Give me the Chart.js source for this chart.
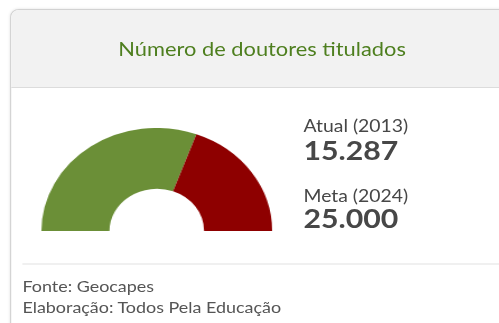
<!DOCTYPE html>
<html>
<head>
<meta charset="utf-8">
<script src="https://cdn.jsdelivr.net/npm/chart.js@4"></script>
<style>
  html, body { margin: 0; padding: 0; background: #fff; overflow: hidden; width: 499px; height: 323px; }
  #wrap { position: relative; width: 446px; height: 323px; transform: scaleX(1.12); transform-origin: 0 0; font-family: Lato, "Open Sans", sans-serif; }
  .card { position: absolute; left: 9px; top: 9px; width: 460px; height: 340px; border: 1px solid #d2d2d2; border-radius: 8px; box-shadow: 0 0 3px rgba(0,0,0,0.12); background: #fff; overflow: hidden; }
  .card-head { position: absolute; left: 0; top: 0; width: 100%; height: 77px; background: #f2f2f2; border-bottom: 1px solid #dcdcdc; }
  .title { position: absolute; left: 0; top: 29px; width: 448px; text-align: center; font-size: 19.5px; line-height: 19px; color: #4e7f1f; }
  .txt { position: absolute; color: #474747; white-space: nowrap; }
  .lbl { font-size: 17.3px; line-height: 14px; }
  .num { font-size: 27px; line-height: 22px; font-weight: bold; }
  .foot { font-size: 16px; line-height: 14px; color: #555; }
  .rule { position: absolute; left: 20px; top: 263px; width: 440px; height: 2px; background: #f0f0f0; }
  #gauge { position: absolute; left: 37px; top: 128px; width: 206px; height: 103px; }
</style>
</head>
<body>
<div id="wrap">
  <div class="card">
    <div class="card-head"></div>
    <div class="title">Número de doutores titulados</div>
  </div>
  <div id="gauge"><canvas id="myChart"></canvas></div>
  <div class="txt lbl" id="atual-lbl" style="left:271px; top:118.5px;"></div>
  <div class="txt num" id="atual-num" style="left:271px; top:138.5px;"></div>
  <div class="txt lbl" id="meta-lbl" style="left:271px; top:188.5px;"></div>
  <div class="txt num" id="meta-num" style="left:271px; top:206.5px;"></div>
  <div class="rule"></div>
  <div class="txt foot" style="left:20px; top:279px;">Fonte: Geocapes</div>
  <div class="txt foot" style="left:20px; top:300px;">Elaboração: Todos Pela Educação</div>
</div>
<script>
// doutores titulados: valor atual e meta
var labels = ['Atual (2013)', 'Meta (2024)'];
var values = [15287, 25000];
var colors = ['#6b8f37', '#8e0000'];

function fmt(n) {
  return n.toLocaleString('pt-BR');
}

document.getElementById('atual-lbl').textContent = labels[0];
document.getElementById('atual-num').textContent = fmt(values[0]);
document.getElementById('meta-lbl').textContent = labels[1];
document.getElementById('meta-num').textContent = fmt(values[1]);

// the red part is what's still missing to reach the goal
var gaugeData = [values[0], values[1] - values[0]];

var ctx = document.getElementById('myChart').getContext('2d');
var chart = new Chart(ctx, {
  type: 'doughnut',
  data: {
    labels: ['Atual', 'Faltam'],
    datasets: [{
      data: gaugeData,
      backgroundColor: colors,
      borderWidth: 0
    }]
  },
  options: {
    responsive: true,
    maintainAspectRatio: false,
    animation: false,
    rotation: -90,
    circumference: 180,
    cutout: '41%',
    layout: { padding: 0 },
    plugins: {
      legend: { display: false },
      tooltip: { enabled: false }
    }
  }
});
</script>
</body>
</html>
